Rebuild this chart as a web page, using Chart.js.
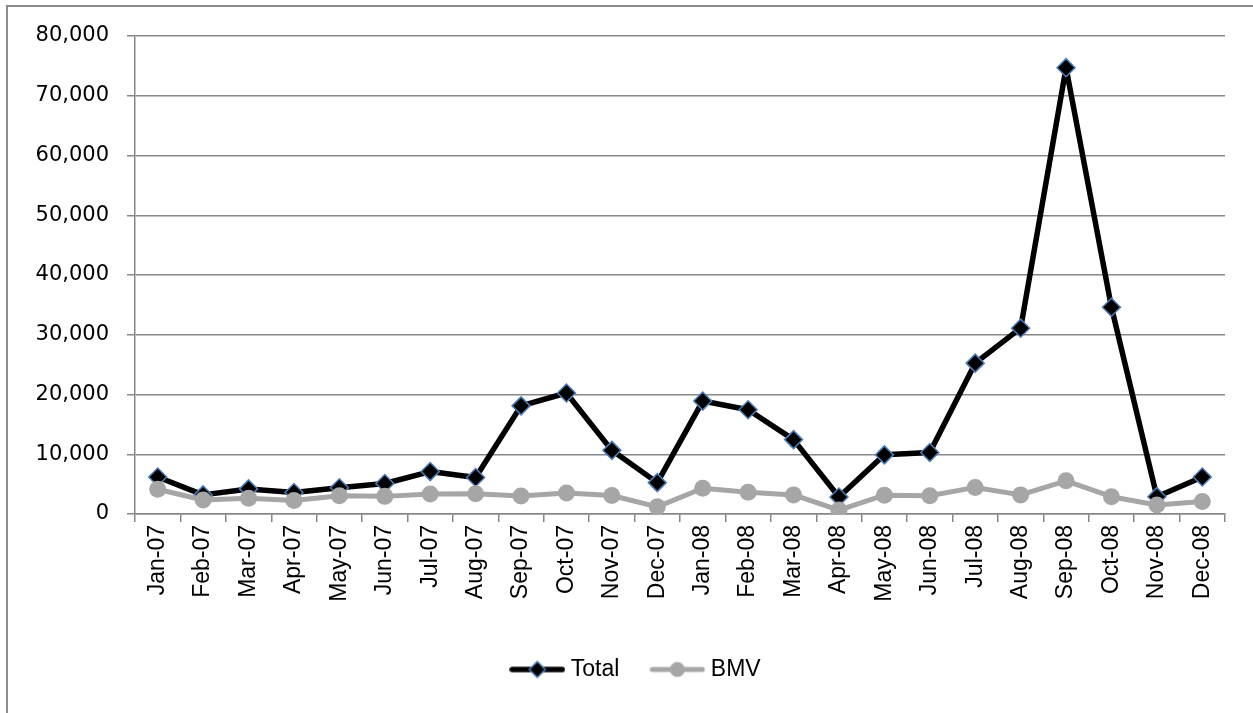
<!DOCTYPE html>
<html>
<head>
<meta charset="utf-8">
<script src="https://cdn.jsdelivr.net/npm/chart.js@4/dist/chart.umd.min.js"></script>
<style>
  html, body { margin: 0; padding: 0; background: #fff; }
  #wrap { width: 1253px; height: 713px; position: relative; }
</style>
</head>
<body>
<div id="wrap"><canvas id="chart" width="1253" height="713"></canvas></div>
<script>
/* Data */
const months = ['Jan-07', 'Feb-07', 'Mar-07', 'Apr-07', 'May-07', 'Jun-07', 'Jul-07', 'Aug-07',
  'Sep-07', 'Oct-07', 'Nov-07', 'Dec-07', 'Jan-08', 'Feb-08', 'Mar-08', 'Apr-08',
  'May-08', 'Jun-08', 'Jul-08', 'Aug-08', 'Sep-08', 'Oct-08', 'Nov-08', 'Dec-08'];
const total = [6200, 3200, 4200, 3600, 4400, 5100, 7100, 6100, 18100, 20250, 10650, 5250,
  18900, 17450, 12450, 2850, 9900, 10300, 25250, 31100, 74700, 34600, 2900, 6200];
const bmv = [4150, 2350, 2650, 2250, 3050, 2950, 3350, 3400, 3000, 3500, 3100, 1200,
  4300, 3650, 3200, 650, 3150, 3050, 4450, 3200, 5550, 2900, 1500, 2100];
const yMin = 0, yMax = 80000, yStep = 10000;

const gridColor = '#878787';
const totalColor = '#000000';
const markerEdge = '#4a7ebb';
const bmvColor = '#a6a6a6';

/* legend swatches: a short line with the marker in the middle */
function swatch(kind) {
  const c = document.createElement('canvas');
  c.width = 56; c.height = 20;
  const g = c.getContext('2d');
  g.lineCap = 'round';
  g.strokeStyle = kind === 'total' ? totalColor : bmvColor;
  g.lineWidth = kind === 'total' ? 5.5 : 5;
  g.beginPath(); g.moveTo(3, 10); g.lineTo(53, 10); g.stroke();
  if (kind === 'total') {
    g.beginPath();
    g.moveTo(28, 2); g.lineTo(36, 10); g.lineTo(28, 18); g.lineTo(20, 10); g.closePath();
    g.fillStyle = totalColor; g.fill();
    g.lineWidth = 1.5; g.strokeStyle = markerEdge; g.stroke();
  } else {
    g.beginPath(); g.arc(28, 10, 7.5, 0, Math.PI * 2);
    g.fillStyle = bmvColor; g.fill();
  }
  return c;
}
const swatches = { Total: swatch('total'), BMV: swatch('bmv') };

/* outer frame (only top and left edges are in view) + legend nudge */
const framePlugin = {
  id: 'frame',
  afterLayout(chart) {
    // legend sits a bit right of the page centre
    chart.legend.left += 51;
  },
  beforeDraw(chart) {
    const ctx = chart.ctx;
    ctx.save();
    ctx.fillStyle = '#ffffff';
    ctx.fillRect(0, 0, chart.width, chart.height);
    ctx.strokeStyle = '#8c8c8c';
    ctx.lineWidth = 2;
    ctx.beginPath();
    ctx.moveTo(7, chart.height);
    ctx.lineTo(7, 6);
    ctx.lineTo(chart.width, 6);
    ctx.stroke();
    ctx.restore();
  }
};

const ctx = document.getElementById('chart').getContext('2d');

new Chart(ctx, {
  type: 'line',
  data: {
    labels: months,
    datasets: [{
      label: 'Total',
      data: total,
      borderColor: totalColor,
      backgroundColor: totalColor,
      borderWidth: 5.5,
      borderJoinStyle: 'round',
      tension: 0,
      pointStyle: 'rectRot',
      pointRadius: 9,
      pointBackgroundColor: totalColor,
      pointBorderColor: markerEdge,
      pointBorderWidth: 1.5,
      order: 1
    }, {
      label: 'BMV',
      data: bmv,
      borderColor: bmvColor,
      backgroundColor: bmvColor,
      borderWidth: 5,
      borderJoinStyle: 'round',
      tension: 0,
      pointStyle: 'circle',
      pointRadius: 8.5,
      pointBackgroundColor: bmvColor,
      pointBorderColor: bmvColor,
      pointBorderWidth: 0,
      order: 0
    }]
  },
  options: {
    responsive: false,
    animation: false,
    devicePixelRatio: 1,
    layout: { padding: { left: 0, right: 28, top: 36, bottom: 22 } },
    plugins: {
      tooltip: { enabled: false },
      legend: {
        position: 'bottom',
        labels: {
          usePointStyle: true,
          pointStyleWidth: 44,
          padding: 36,
          color: '#000',
          font: { family: 'Liberation Sans', size: 23 },
          generateLabels(chart) {
            return chart.data.datasets.map((ds, i) => ({
              text: ds.label,
              pointStyle: swatches[ds.label],
              fillStyle: ds.borderColor,
              strokeStyle: ds.borderColor,
              lineWidth: 0,
              hidden: false,
              datasetIndex: i,
              fontColor: '#000'
            }));
          }
        }
      }
    },
    scales: {
      x: {
        offset: true,
        grid: {
          offset: true,
          drawOnChartArea: false,
          drawTicks: true,
          tickLength: 8,
          color: gridColor,
          lineWidth: 1.5
        },
        border: { color: gridColor, width: 1.5 },
        ticks: {
          minRotation: 90,
          maxRotation: 90,
          autoSkip: false,
          padding: 3,
          color: '#000',
          font: { family: 'Liberation Sans', size: 23 }
        },
        afterFit(scale) { scale.height = 108; }
      },
      y: {
        min: yMin,
        max: yMax,
        grid: {
          color: gridColor,
          lineWidth: 1.5,
          drawTicks: true,
          tickLength: 8
        },
        border: { color: gridColor, width: 1.5 },
        ticks: {
          stepSize: yStep,
          padding: 18,
          color: '#000',
          font: { family: 'DejaVu Sans', size: 21 },
          callback: v => v.toLocaleString('en-US')
        },
        afterFit(scale) { scale.width = 135; }
      }
    }
  },
  plugins: [framePlugin]
});
</script>
</body>
</html>
